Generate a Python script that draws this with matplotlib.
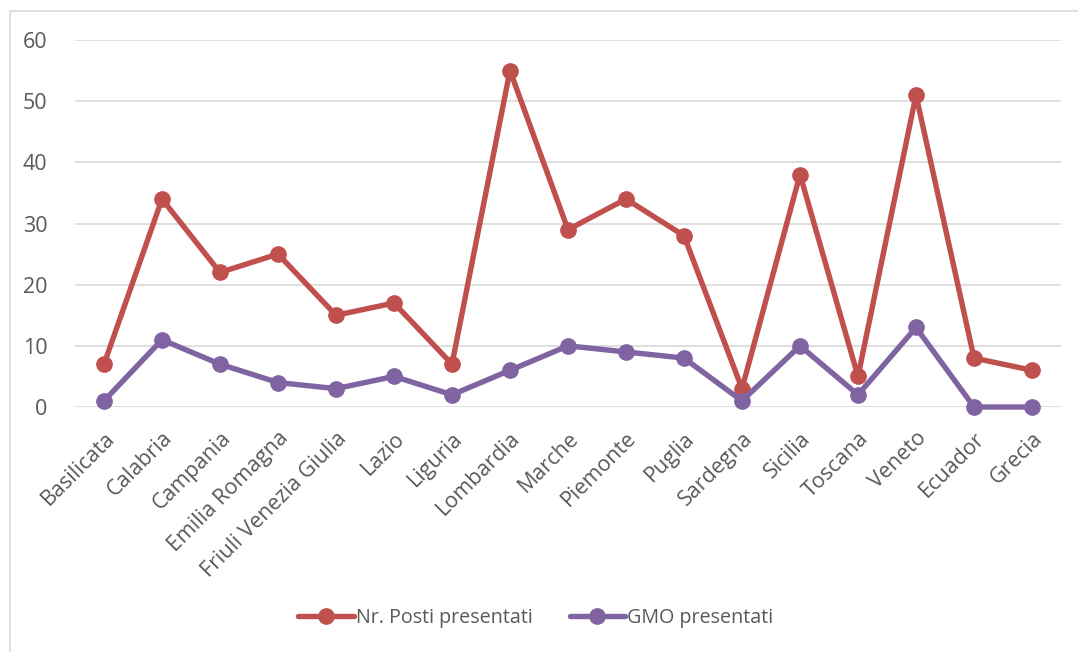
import matplotlib
matplotlib.use("Agg")
import matplotlib.pyplot as plt
from matplotlib.patches import Rectangle

categories = ["Basilicata", "Calabria", "Campania", "Emilia Romagna", "Friuli Venezia Giulia",
              "Lazio", "Liguria", "Lombardia", "Marche", "Piemonte", "Puglia", "Sardegna",
              "Sicilia", "Toscana", "Veneto", "Ecuador", "Grecia"]
posti = [7, 34, 22, 25, 15, 17, 7, 55, 29, 34, 28, 3, 38, 5, 51, 8, 6]
gmo = [1, 11, 7, 4, 3, 5, 2, 6, 10, 9, 8, 1, 10, 2, 13, 0, 0]
yticks = [0, 10, 20, 30, 40, 50, 60]

plt.rcParams['font.family'] = ['Open Sans', 'DejaVu Sans']
W, H = 1078, 652
fig = plt.figure(figsize=(W / 100, H / 100), dpi=100)
fig.patch.set_facecolor("white")
fig.patches.append(Rectangle((10 / W, -5 / H), (W + 10) / W, (H - 6) / H, transform=fig.transFigure,
                             fill=False, edgecolor="#d9d9d9", linewidth=1.2))

ax = fig.add_axes([75 / W, 1 - 407 / H, (1061 - 75) / W, (407 - 40) / H])
x = list(range(len(categories)))
red = "#C0504D"
purple = "#8064A2"
ax.plot(x, posti, color=red, lw=3.9, marker="o", ms=11, label="Nr. Posti presentati",
        solid_capstyle="round", zorder=3)
ax.plot(x, gmo, color=purple, lw=3.9, marker="o", ms=11, label="GMO presentati",
        solid_capstyle="round", zorder=3)

fs = 15.5
ax.set_xlim(-0.5, len(categories) - 0.5)
ax.set_ylim(0, 60)
ax.set_yticks(yticks)
ax.set_yticklabels([str(v) for v in yticks], fontsize=fs, color="#595959")
ax.set_xticks(x)
ax.set_xticklabels(categories, rotation=45, ha="right", rotation_mode="anchor",
                   fontsize=fs, color="#595959")
ax.tick_params(axis="both", length=0)
ax.tick_params(axis="y", pad=20)
ax.tick_params(axis="x", pad=15)
ax.grid(axis="y", color="#d9d9d9", lw=1.2)
ax.set_axisbelow(True)
for s in ax.spines.values():
    s.set_visible(False)
for l in ax.lines:
    l.set_clip_on(False)

leg = fig.legend(loc="center", bbox_to_anchor=(0.497, 1 - 618 / H), ncol=2, frameon=False,
                 fontsize=14.2, handlelength=2.8, columnspacing=1.9, handletextpad=0.1)
for t in leg.get_texts():
    t.set_color("#595959")

fig.savefig("out.png", dpi=100)
